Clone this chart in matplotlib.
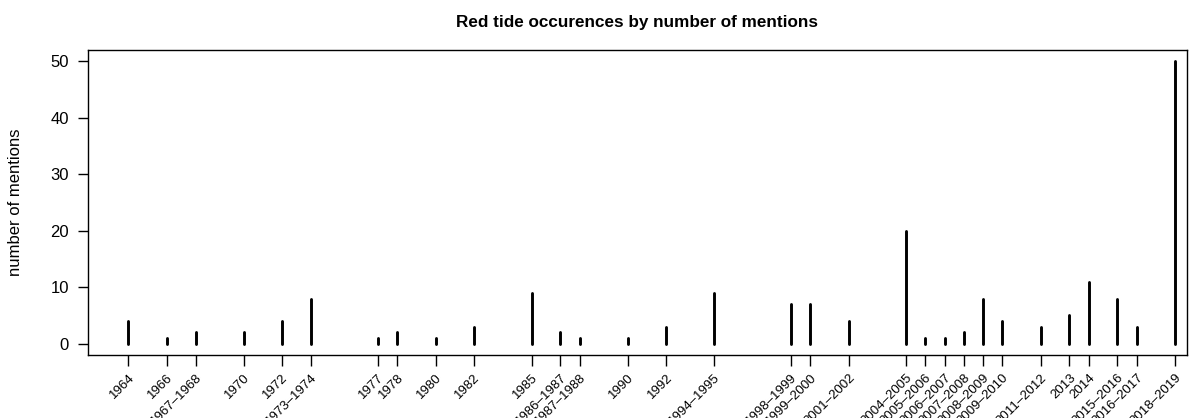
import matplotlib

matplotlib.use("Agg")
import matplotlib.pyplot as plt
import numpy as np

plt.rcParams["font.family"] = ["Liberation Sans", "DejaVu Sans"]

# --- data ---
periods = [
    "1964", "1966", "1967\u20131968", "1970", "1972", "1973\u20131974",
    "1977", "1978", "1980", "1982", "1985", "1986\u20131987", "1987\u20131988",
    "1990", "1992", "1994\u20131995", "1998\u20131999", "1999\u20132000",
    "2001\u20132002", "2004\u20132005", "2005\u20132006", "2006\u20132007",
    "2007\u20132008", "2008\u20132009", "2009\u20132010", "2011\u20132012",
    "2013", "2014", "2015\u20132016", "2016\u20132017", "2018\u20132019",
]
mentions = [
    4, 1, 2, 2, 4, 8,
    1, 2, 1, 3, 9, 2, 1,
    1, 3, 9, 7, 7,
    4, 20, 1, 1,
    2, 8, 4, 3,
    5, 11, 8, 3, 50,
]

# x position = middle year of the period
xpos = np.array([np.mean([int(y) for y in p.split("\u2013")]) for p in periods])

fig = plt.figure(figsize=(11.89, 4.18), dpi=100)
ax = fig.add_axes([0.0738, 0.1507, 0.9245, 0.7297])

ax.vlines(xpos, 0, mentions, color="black", linewidth=2.1, capstyle="round")

ax.set_xlim(1961.89, 2019.12)
ax.set_ylim(-2, 52)
ax.set_yticks([0, 10, 20, 30, 40, 50])
ax.set_xticks(xpos)
ax.set_xticklabels(periods, rotation=45, ha="right", va="top",
                   rotation_mode="anchor", fontsize=9.5)
ax.tick_params(axis="x", length=8, width=1, pad=4)
ax.tick_params(axis="y", length=7.5, width=1, pad=6, labelsize=12)
for s in ax.spines.values():
    s.set_linewidth(1.0)

ax.set_ylabel("number of mentions", fontsize=12)
ax.yaxis.set_label_coords(-0.0585, 0.5)
fig.text(0.5358, 0.947, "Red tide occurences by number of mentions",
         ha="center", va="center", fontsize=12.3, fontweight="bold")

fig.savefig("out.png", dpi=100)
